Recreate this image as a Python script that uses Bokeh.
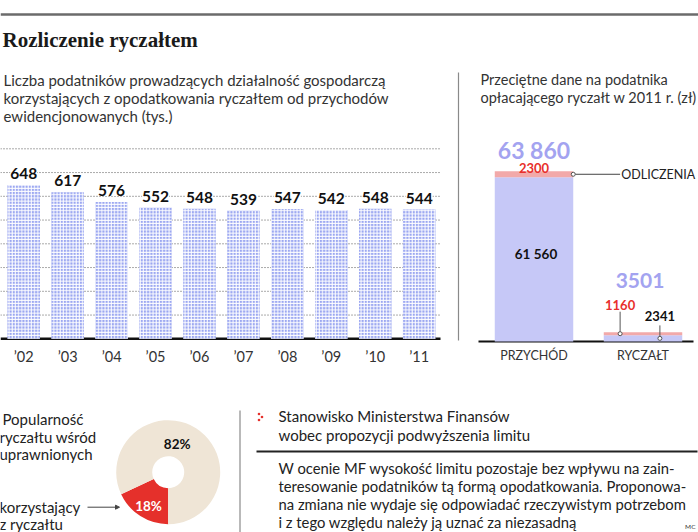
from bokeh.plotting import figure
from bokeh.models import Range1d, Arrow, NormalHead
from bokeh.core.properties import value
from bokeh.embed import file_html
from bokeh.resources import INLINE
import math

# ---------------- data ----------------
years = ["’02", "’03", "’04", "’05", "’06", "’07", "’08", "’09", "’10", "’11"]
taxpayers = [648, 617, 576, 552, 548, 539, 547, 542, 548, 544]
grid_values = [100, 200, 300, 400, 500, 600, 700, 800]

avg_categories = ["PRZYCHÓD", "RYCZAŁT"]
avg_totals = [63860, 3501]
avg_base = [61560, 2341]
avg_deductions = [2300, 1160]

share_labels = ["korzystający z ryczałtu", "pozostali"]
share_pct = [18, 82]

W, H = 698, 532
SANS = "Lato"

p = figure(width=W, height=H, output_backend="svg", toolbar_location=None,
           x_range=Range1d(0, W), y_range=Range1d(H, 0),
           x_axis_location=None, y_axis_location=None,
           min_border=0, min_border_left=0, min_border_right=0,
           min_border_top=0, min_border_bottom=0)
p.outline_line_color = None
p.grid.visible = False
p.background_fill_color = "white"
p.border_fill_color = "white"


def xrange_px(v0, p0, v1, p1):
    s = (p1 - p0) / (v1 - v0)
    a = v0 - p0 / s
    return Range1d(a, a + W / s)


def yrange_px(v0, p0, v1, p1):
    q0, q1 = H - p0, H - p1
    s = (q1 - q0) / (v1 - v0)
    a = v0 - q0 / s
    return Range1d(a, a + H / s)


# left bar chart ranges
p.extra_x_ranges["lx"] = xrange_px(0, 23.2, 9, 418.7)
p.extra_y_ranges["ly"] = yrange_px(0, 338.3, 800, 148.3)
# right chart ranges
p.extra_x_ranges["rx"] = xrange_px(0, 533.5, 1, 642.5)
p.extra_y_ranges["ry"] = yrange_px(0, 341, 63860, 170.7)

# ---------------- header ----------------
p.segment(x0=0, x1=W, y0=14, y1=14, line_color="#6b6b6b", line_width=2.5)
p.text(x=[2], y=[39], text=["Rozliczenie ryczałtem"], text_font=value("Liberation Serif"),
       text_font_style="bold", text_font_size="21px", text_color="#1a1a1a",
       text_baseline="middle")

left_sub = ["Liczba podatników prowadzących działalność gospodarczą",
            "korzystających z opodatkowania ryczałtem od przychodów",
            "ewidencjonowanych (tys.)"]
p.text(x=[3] * 3, y=[79, 97, 115], text=left_sub, text_font=value(SANS),
       text_font_size="15px", text_color="#333333", text_baseline="middle")
right_sub = ["Przeciętne dane na podatnika", "opłacającego ryczałt w 2011 r. (zł)"]
p.text(x=[480] * 2, y=[79, 97], text=right_sub, text_font=value(SANS),
       text_font_size="14.5px", text_color="#333333", text_baseline="middle")

# dividers
p.segment(x0=458, x1=458, y0=72, y1=340, line_color="#8a8a8a", line_width=1.2)
p.segment(x0=239.5, x1=239.5, y0=410, y1=H, line_color="#8a8a8a", line_width=1.2)

# ---------------- left bar chart ----------------
idx = list(range(len(years)))
p.segment(x0=0, x1=440, y0=grid_values, y1=grid_values, y_range_name="ly",
          line_color="#555555", line_width=1, line_dash="1 2")
p.segment(x0=0, x1=440, y0=0, y1=0, y_range_name="ly", line_color="#111111", line_width=2.5)
p.vbar(x=idx, top=taxpayers, bottom=0, width=0.74, x_range_name="lx", y_range_name="ly",
       fill_color="#9ba7f1", line_color=None, hatch_pattern="+", hatch_color="white",
       hatch_weight=1, hatch_scale=3.2)
p.text(x=idx, y=taxpayers, text=[str(v) for v in taxpayers], x_range_name="lx", y_range_name="ly",
       text_align="center", text_baseline="bottom", y_offset=-6, text_font=value(SANS),
       text_font_style="bold", text_font_size="15.5px", text_color="#111111",
       background_fill_color="white")
p.text(x=idx, y=[0] * len(idx), text=years, x_range_name="lx", y_range_name="ly",
       text_align="center", text_baseline="middle", y_offset=18, text_font=value(SANS),
       text_font_size="14.5px", text_color="#333333")

# ---------------- right stacked chart ----------------
ridx = [0, 1]
rtop = [b + d for b, d in zip(avg_base, avg_deductions)]
p.segment(x0=478, x1=693, y0=0, y1=0, y_range_name="ry", line_color="#111111", line_width=2)
p.vbar(x=ridx, bottom=0, top=avg_base, width=0.72, x_range_name="rx", y_range_name="ry",
       fill_color="#c6c8f7", line_color=None)
p.vbar(x=ridx, bottom=avg_base, top=rtop, width=0.72, x_range_name="rx", y_range_name="ry",
       fill_color="#f2a9a9", line_color=None)

fmt = lambda v: f"{v:,}".replace(",", " ") if v >= 10000 else str(v)
# totals
p.text(x=[0], y=[avg_totals[0]], text=[fmt(avg_totals[0])], x_range_name="rx", y_range_name="ry",
       text_align="center", text_baseline="middle", y_offset=-21, text_font=value(SANS),
       text_font_style="bold", text_font_size="23px", text_color="#a3a3f0")
p.text(x=[1], y=[avg_totals[1]], text=[fmt(avg_totals[1])], x_range_name="rx", y_range_name="ry",
       text_align="center", text_baseline="middle", y_offset=-52, x_offset=-3, text_font=value(SANS),
       text_font_style="bold", text_font_size="21px", text_color="#a3a3f0")
# przychod labels
p.text(x=[0], y=[avg_totals[0]], text=[str(avg_deductions[0])], x_range_name="rx", y_range_name="ry",
       text_align="center", text_baseline="middle", y_offset=-3, text_font=value(SANS),
       text_font_style="bold", text_font_size="13px", text_color="#e8302c")
p.text(x=[0], y=[avg_base[0] / 2], text=[fmt(avg_base[0])], x_range_name="rx", y_range_name="ry",
       text_align="center", text_baseline="middle", y_offset=-5, x_offset=2, text_font=value(SANS),
       text_font_style="bold", text_font_size="13.5px", text_color="#111111")
# ODLICZENIA leader
od_y = avg_base[0] + avg_deductions[0] / 2
p.segment(x0=0.36, x1=0.79, y0=od_y, y1=od_y, x_range_name="rx", y_range_name="ry",
          line_color="#444444", line_width=1)
p.scatter(x=[0.36], y=[od_y], x_range_name="rx", y_range_name="ry",
          size=4, fill_color="white", line_color="#555555", line_width=1)
p.text(x=[0.80], y=[od_y], text=["ODLICZENIA"], x_range_name="rx",
       y_range_name="ry", text_align="left", text_baseline="middle", text_font=value(SANS),
       text_font_size="12.5px", text_color="#222222")
# ryczalt leaders
rd_y = avg_base[1] + avg_deductions[1] / 2
rb_y = avg_base[1] / 2
p.text(x=[0.79], y=[rd_y], text=[str(avg_deductions[1])], x_range_name="rx", y_range_name="ry",
       text_align="center", text_baseline="middle", y_offset=-29, text_font=value(SANS),
       text_font_style="bold", text_font_size="13px", text_color="#e8302c")
p.text(x=[1.155], y=[rb_y], text=[str(avg_base[1])], x_range_name="rx", y_range_name="ry",
       text_align="center", text_baseline="middle", y_offset=-22, text_font=value(SANS),
       text_font_style="bold", text_font_size="13px", text_color="#111111")
p.ray(x=[0.79], y=[rd_y], length=22, angle=math.pi / 2, length_units="screen", x_range_name="rx",
      y_range_name="ry", line_color="#555555", line_width=1)
p.ray(x=[1.155], y=[rb_y], length=13, angle=math.pi / 2, length_units="screen", x_range_name="rx",
      y_range_name="ry", line_color="#555555", line_width=1)
p.scatter(x=[0.79, 1.155], y=[rd_y, rb_y], x_range_name="rx", y_range_name="ry",
          size=4, fill_color="white", line_color="#555555", line_width=1)
p.text(x=ridx, y=[0, 0], text=avg_categories, x_range_name="rx", y_range_name="ry",
       text_align="center", text_baseline="middle", y_offset=14, text_font=value(SANS),
       text_font_size="12.5px", text_color="#333333")

# ---------------- donut ----------------
cx, cy = 167.7, 471.7
start = 3 * math.pi / 2
# red share goes clockwise from the bottom
a0 = start - share_pct[0] / 100 * 2 * math.pi
wedges_start = [a0, start]
wedges_end = [start, a0 + 2 * math.pi]
p.annular_wedge(x=[cx, cx], y=[cy, cy], inner_radius=16, outer_radius=52,
                inner_radius_units="screen", outer_radius_units="screen",
                start_angle=wedges_start, end_angle=wedges_end,
                fill_color=["#e5302b", "#efe5d6"], line_color=None)
p.text(x=[176.7], y=[443.5], text=[f"{share_pct[1]}%"], text_align="center", text_baseline="middle",
       text_font=value(SANS), text_font_style="bold", text_font_size="13.5px", text_color="#111111")
p.text(x=[148], y=[505.5], text=[f"{share_pct[0]}%"], text_align="center", text_baseline="middle",
       text_font=value(SANS), text_font_style="bold", text_font_size="13.5px", text_color="white")

p.text(x=[2, -1, -1], y=[418, 436, 453], text=["Popularność", "ryczałtu wśród", "uprawnionych"],
       text_font=value(SANS), text_font_size="15px", text_color="#222222", text_baseline="middle")
p.text(x=[-1, -1], y=[506.5, 523.5], text=["korzystający", "z ryczałtu"],
       text_font=value(SANS), text_font_size="15px", text_color="#222222", text_baseline="middle")
p.add_layout(Arrow(x_start=87, y_start=506.7, x_end=119, y_end=506.7, line_color="#444444",
                   line_width=1, end=NormalHead(size=4, fill_color="#444444", line_color="#444444")))

# ---------------- MF statement ----------------
p.scatter(x=[258.5, 261.5, 258.5], y=[413.5, 416.5, 419.5], size=2.6, fill_color="#e5302b",
          line_color=None)
p.text(x=[278, 278], y=[415, 434], text=["Stanowisko Ministerstwa Finansów",
                                          "wobec propozycji podwyższenia limitu"],
       text_font=value(SANS), text_font_size="15px", text_color="#222222", text_baseline="middle")
p.segment(x0=256, x1=697, y0=451, y1=451, line_color="#222222", line_width=2)
body = ["W ocenie MF wysokość limitu pozostaje bez wpływu na zain-",
        "teresowanie podatników tą formą opodatkowania. Proponowa-",
        "na zmiana nie wydaje się odpowiadać rzeczywistym potrzebom",
        "i z tego względu należy ją uznać za niezasadną"]
p.text(x=[278] * 4, y=[467, 485, 503, 521], text=body, text_font=value(SANS),
       text_font_size="14.8px", text_color="#222222", text_baseline="middle")
p.text(x=[695], y=[526], text=["MC"], text_align="right", text_baseline="middle",
       text_font=value(SANS), text_font_size="6.5px", text_color="#333333")

open("out.html", "w").write(file_html(p, INLINE))
